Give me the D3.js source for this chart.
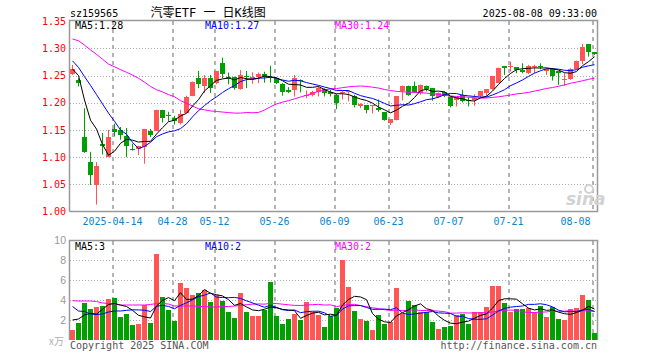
<!DOCTYPE html>
<html><head><meta charset="utf-8">
<script src="https://cdn.jsdelivr.net/npm/d3@7"></script>
<style>body{margin:0;background:#fff}svg{display:block}</style>
</head><body>
<svg id="c" width="660" height="360"></svg>
<script>
const code = "sz159565";
const title = "汽零ETF 一 日K线图";
const stamp = "2025-08-08 09:33:00";

const open = [1.253,1.242,1.137,1.092,1.049,1.1244,1.100,1.1524,1.1506,1.1396,
1.1145,1.115,1.119,1.149,1.149,1.186,1.1775,1.172,1.163,1.182,
1.213,1.246,1.230,1.2463,1.236,1.2726,1.247,1.247,1.2256,1.2494,
1.244,1.248,1.253,1.248,1.245,1.2345,1.2226,1.2226,1.242,1.2128,
1.2146,1.2207,1.225,1.219,1.2146,1.219,1.2195,1.2116,1.1933,1.196,
1.1945,1.191,1.1823,1.1628,1.169,1.2214,1.2317,1.2317,1.2177,1.2317,
1.2268,1.2104,1.219,1.2097,1.2055,1.2146,1.2055,1.2043,1.2128,1.2177,
1.225,1.2372,1.2677,1.2652,1.2652,1.2604,1.2543,1.2652,1.2677,1.2591,
1.2616,1.2585,1.242,1.2433,1.2616,1.2774,1.308,1.2927];
const high = [1.2695,1.245,1.190,1.110,1.091,1.1445,1.150,1.1616,1.1555,1.1537,
1.125,1.121,1.152,1.152,1.1873,1.187,1.1835,1.176,1.187,1.213,
1.239,1.2585,1.251,1.251,1.2585,1.283,1.2555,1.248,1.260,1.2585,
1.256,1.2555,1.257,1.268,1.247,1.236,1.2287,1.251,1.243,1.2226,
1.222,1.2297,1.2267,1.224,1.2165,1.2226,1.2226,1.2146,1.199,1.196,
1.196,1.206,1.1823,1.1695,1.2116,1.2317,1.2317,1.239,1.2335,1.2317,
1.2268,1.219,1.221,1.2116,1.2104,1.2238,1.2104,1.2158,1.2219,1.225,
1.2494,1.2646,1.2677,1.2756,1.2652,1.2726,1.2695,1.2695,1.2726,1.2634,
1.2634,1.2585,1.2543,1.2634,1.2774,1.308,1.308,1.2927];
const low = [1.251,1.230,1.108,1.049,1.013,1.105,1.100,1.138,1.132,1.100,
1.112,1.104,1.088,1.137,1.149,1.164,1.166,1.160,1.160,1.182,
1.212,1.2268,1.218,1.218,1.234,1.245,1.234,1.224,1.224,1.227,
1.235,1.236,1.237,1.237,1.2345,1.213,1.2177,1.2116,1.219,1.2085,
1.2116,1.2116,1.2116,1.2116,1.1884,1.206,1.2025,1.1915,1.190,1.1805,
1.1805,1.1835,1.167,1.159,1.1677,1.2043,1.2128,1.2177,1.2146,1.2207,
1.2037,1.2085,1.2104,1.1915,1.1933,1.2006,1.1933,1.1945,1.2104,1.2116,
1.2237,1.236,1.2512,1.2573,1.2543,1.2543,1.253,1.2543,1.2616,1.2512,
1.2408,1.2329,1.231,1.242,1.2616,1.271,1.2847,1.2878];
const close = [1.262,1.236,1.110,1.067,1.0835,1.121,1.137,1.1463,1.140,1.120,
1.113,1.120,1.152,1.141,1.186,1.172,1.175,1.166,1.180,1.2097,
1.239,1.234,1.2463,1.228,1.2585,1.2524,1.2433,1.227,1.251,1.247,
1.247,1.253,1.248,1.245,1.236,1.2207,1.2207,1.245,1.241,1.2146,
1.2207,1.228,1.2177,1.2165,1.200,1.2207,1.221,1.195,1.1976,1.1866,
1.1964,1.186,1.169,1.1695,1.2116,1.2317,1.2146,1.2207,1.2323,1.225,
1.2116,1.2177,1.2128,1.1933,1.2097,1.2024,1.2024,1.2085,1.2219,1.225,
1.2494,1.2634,1.2634,1.2677,1.2604,1.2573,1.2677,1.2677,1.2664,1.2616,
1.2494,1.2555,1.2433,1.2616,1.2768,1.303,1.2927,1.289];
const volume = [1.0,1.73,3.73,3.13,3.33,3.43,4.13,4.23,2.33,2.63,
1.53,1.63,3.47,1.73,8.63,4.33,3.03,1.93,5.73,5.23,
4.53,4.73,5.03,3.83,4.53,3.93,2.83,2.23,4.73,2.83,
2.43,2.43,2.97,5.83,2.43,1.63,2.13,2.63,2.03,3.83,
2.83,2.53,1.33,2.4,3.23,8.0,5.3,2.9,2.1,1.9,
1.0,2.5,1.6,1.77,5.2,2.6,3.93,3.5,2.83,2.77,
1.8,1.1,1.33,1.43,2.5,2.57,1.6,2.8,2.8,3.3,
5.4,5.4,3.7,2.8,3.1,3.1,3.23,2.8,3.4,2.3,
3.33,2.1,2.0,3.1,3.2,4.5,4.0,0.7];

const ma5Lead = [1.262,1.250,1.205,1.168];
const ma10Lead = [1.277,1.265,1.248,1.232,1.215,1.198,1.181,1.166,1.150];
const ma30Lead = [1.317,1.314,1.306,1.297,1.289,1.280,1.271,1.266,1.261,1.256,
1.251,1.245,1.238,1.230,1.224,1.220,1.215,1.211,1.204,1.199,
1.194,1.189,1.187,1.185,1.184,1.183,1.182,1.181,1.181];
const volMa5Lead = [2.0,2.1,2.5,2.67];
const volMa10Lead = [3.35,2.9,2.85,2.6,2.55,2.6,2.8,2.9,2.9];
const volMa30Lead = [3.93,3.9,3.9,3.9,3.85,3.7,3.65,3.6,3.5,3.5,
3.5,3.5,3.5,3.55,3.65,3.65,3.6,3.4,3.4,3.4,
3.4,3.35,3.35,3.3,3.3,3.35,3.35,3.4,3.45];

const priceTicks = [1.00,1.05,1.10,1.15,1.20,1.25,1.30,1.35];
const volTicks = [2,4,6,8,10];
const dateTickIndex = [7,17,24,34,44,53,63,73,87];
const dateTickLabels = ["2025-04-14","04-28","05-12","05-26","06-09","06-23","07-07","07-21","08-08"];
const maPeriods = [5,10,30];
const maLabelValues = [1.28,1.27,1.24];
const volMaLabelValues = [3,2,2];

const maColors = ["#000000","#0000ff","#ff00ff"];
const RED = "#ff5555", GREEN = "#00a000", GRID = "#aaaaaa", FRAME = "#999999";
const MONO = "'DejaVu Sans Mono', monospace";

function movingAvg(arr, n, lead) {
  return arr.map((v, i) => i < n - 1 ? lead[i] : d3.mean(arr.slice(i - n + 1, i + 1)));
}

const N = close.length;
const svg = d3.select("#c");
const L = 70, R = 598;
const x = d3.scaleBand().domain(d3.range(N)).range([L, R]);
const xl = d3.scaleLinear().domain([0, N]).range([L, R]);
const y = d3.scaleLinear().domain([1.00, 1.30]).range([211.67, 48.33]);
const yv = d3.scaleLinear().domain([0, 10]).range([340, 240]);
const bw = x.bandwidth() - 1;

// grids
const grid = svg.append("g");
priceTicks.filter(t => t > 1.001 && t < 1.34).forEach(t => {
  const yy = Math.round(y(t)) + 0.5;
  grid.append("line").attr("x1", L).attr("x2", 597).attr("y1", yy).attr("y2", yy)
    .attr("stroke", GRID).attr("stroke-dasharray", "1,2");
});
volTicks.filter(t => t < 10).forEach(t => {
  const yy = Math.round(yv(t)) + 0.5;
  grid.append("line").attr("x1", L).attr("x2", 597).attr("y1", yy).attr("y2", yy)
    .attr("stroke", GRID).attr("stroke-dasharray", "1,2");
});
dateTickIndex.forEach(i => {
  const xx = xl(i) + 1;
  grid.append("line").attr("x1", xx).attr("x2", xx).attr("y1", 21).attr("y2", 211)
    .attr("stroke", "#b4b4b4").attr("stroke-width", 2).attr("stroke-dasharray", "4,4");
  grid.append("line").attr("x1", xx).attr("x2", xx).attr("y1", 241).attr("y2", 340)
    .attr("stroke", "#b4b4b4").attr("stroke-width", 2).attr("stroke-dasharray", "4,4");
});

// frames
const fr = svg.append("g").attr("fill", "none").attr("stroke", FRAME).attr("stroke-width", 1.5);
fr.append("path").attr("d", `M69.5,211.5V20.5H597.5V211.5H69.5`);
fr.append("path").attr("d", `M69.5,340V240.5H597.5V340`);

// watermark
const wm = svg.append("g").attr("fill", "#d2d2d2");
wm.append("text").attr("x", 566).attr("y", 205).attr("font-family", "'DejaVu Sans', sans-serif")
  .attr("font-size", 17).attr("font-style", "italic").attr("font-weight", "bold").text("sina");
wm.append("circle").attr("cx", 589).attr("cy", 189).attr("r", 4).attr("fill", "none")
  .attr("stroke", "#d2d2d2").attr("stroke-width", 2);

// candles
const cg = svg.append("g");
d3.range(N).forEach(i => {
  const up = close[i] >= open[i];
  const col = up ? RED : GREEN;
  const cx = x(i) + 2.5;
  cg.append("line").attr("x1", cx).attr("x2", cx).attr("y1", y(high[i])).attr("y2", y(low[i]))
    .attr("stroke", col).attr("stroke-width", 1);
  const top = y(Math.max(open[i], close[i])), bot = y(Math.min(open[i], close[i]));
  cg.append("rect").attr("x", x(i)).attr("width", bw).attr("y", top)
    .attr("height", Math.max(1, bot - top)).attr("fill", col).attr("shape-rendering", "crispEdges");
});

// volume bars
const vg = svg.append("g");
d3.range(N).forEach(i => {
  const up = close[i] >= open[i];
  vg.append("rect").attr("x", x(i)).attr("width", bw).attr("y", yv(volume[i]))
    .attr("height", 340 - yv(volume[i])).attr("fill", up ? RED : GREEN).attr("shape-rendering", "crispEdges");
});

// MA lines
const priceLeads = [ma5Lead, ma10Lead, ma30Lead];
const volLeads = [volMa5Lead, volMa10Lead, volMa30Lead];
[2,1,0].forEach(k => {
  const m = movingAvg(close, maPeriods[k], priceLeads[k]);
  svg.append("path").attr("d", d3.line().x((d, i) => x(i) + 2.5).y(d => y(d))(m))
    .attr("fill", "none").attr("stroke", maColors[k]).attr("stroke-width", 1);
  const mv = movingAvg(volume, maPeriods[k], volLeads[k]);
  svg.append("path").attr("d", d3.line().x((d, i) => x(i) + 2.5).y(d => yv(d))(mv))
    .attr("fill", "none").attr("stroke", maColors[k]).attr("stroke-width", 1);
});

// axes
const ya = svg.append("g").attr("transform", "translate(69,0)")
  .call(d3.axisLeft(y).tickValues(priceTicks).tickFormat(d3.format(".2f")).tickSize(0).tickPadding(3));
ya.select(".domain").remove();
ya.selectAll("text").attr("fill", "#ff0000").attr("font-family", MONO).attr("font-size", 10);

const yva = svg.append("g").attr("transform", "translate(69,0)")
  .call(d3.axisLeft(yv).tickValues(volTicks).tickSize(0).tickPadding(3));
yva.select(".domain").remove();
yva.selectAll("text").attr("fill", "#999").attr("font-family", "'Liberation Sans', Arial, sans-serif").attr("font-size", 10.5);

const xa = svg.append("g").attr("transform", "translate(0,211.67)")
  .call(d3.axisBottom(xl).tickValues(dateTickIndex).tickFormat((d, k) => dateTickLabels[k]).tickSize(0).tickPadding(6.7));
xa.select(".domain").remove();
xa.selectAll("text").attr("fill", "#0a84d0").attr("font-family", MONO).attr("font-size", 10);
xa.selectAll(".tick").filter((d, k) => k === dateTickIndex.length - 1).select("text")
  .attr("text-anchor", "end").attr("x", -2);

// texts
const T = (tx, xx, yy, col, anchor, size, fam) => svg.append("text").attr("x", xx).attr("y", yy)
  .attr("fill", col).attr("text-anchor", anchor || "start").attr("font-family", fam || MONO)
  .attr("font-size", size || 10).text(tx);
T(code, 70, 17, "#000");
T(title, 150.5, 17, "#000", "start", 12, "'DejaVu Sans Mono', 'Noto Sans CJK SC', sans-serif");
T(stamp, 597, 17, "#000", "end");
const labelX = [75, 205, 335];
maPeriods.forEach((p, k) => {
  T(`MA${p}:${maLabelValues[k].toFixed(2)}`, labelX[k], 29, maColors[k]);
  T(`MA${p}:${volMaLabelValues[k]}`, labelX[k], 250, maColors[k]);
});
T("x万", 64, 344.5, "#b0b0b0", "end", 10, "'Noto Sans CJK SC', sans-serif");
T("Copyright 2025 SINA.COM", 70, 349, "#555");
T("http://finance.sina.com.cn", 597, 349, "#555", "end");
</script>
</body></html>
